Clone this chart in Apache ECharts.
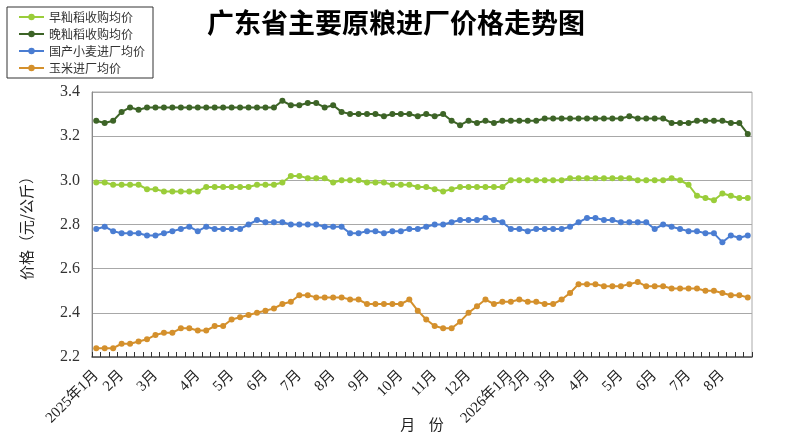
<!DOCTYPE html>
<html>
<head>
<meta charset="utf-8">
<script src="https://cdn.jsdelivr.net/npm/echarts@6/dist/echarts.min.js"></script>
<style>
  html, body { margin: 0; padding: 0; background: #fff; }
  #chart { width: 800px; height: 444px; }
</style>
</head>
<body>
<div id="chart"></div>
<script>
// weekly points, month label only on the first week of each month
const monthLabels = {
  0: '2025年1月', 3: '2月', 7: '3月', 12: '4月', 16: '5月', 20: '6月',
  24: '7月', 28: '8月', 32: '9月', 36: '10月', 40: '11月', 44: '12月',
  49: '2026年1月', 51: '2月', 54: '3月', 58: '4月', 62: '5月', 66: '6月',
  70: '7月', 74: '8月'
};

const earlyRice = [
  2.99, 2.99, 2.98, 2.98, 2.98, 2.98, 2.96, 2.96, 2.95, 2.95,
  2.95, 2.95, 2.95, 2.97, 2.97, 2.97, 2.97, 2.97, 2.97, 2.98,
  2.98, 2.98, 2.99, 3.02, 3.02, 3.01, 3.01, 3.01, 2.99, 3.00,
  3.00, 3.00, 2.99, 2.99, 2.99, 2.98, 2.98, 2.98, 2.97, 2.97,
  2.96, 2.95, 2.96, 2.97, 2.97, 2.97, 2.97, 2.97, 2.97, 3.00,
  3.00, 3.00, 3.00, 3.00, 3.00, 3.00, 3.01, 3.01, 3.01, 3.01,
  3.01, 3.01, 3.01, 3.01, 3.00, 3.00, 3.00, 3.00, 3.01, 3.00,
  2.98, 2.93, 2.92, 2.91, 2.94, 2.93, 2.92, 2.92
];

const lateRice = [
  3.27, 3.26, 3.27, 3.31, 3.33, 3.32, 3.33, 3.33, 3.33, 3.33,
  3.33, 3.33, 3.33, 3.33, 3.33, 3.33, 3.33, 3.33, 3.33, 3.33,
  3.33, 3.33, 3.36, 3.34, 3.34, 3.35, 3.35, 3.33, 3.34, 3.31,
  3.30, 3.30, 3.30, 3.30, 3.29, 3.30, 3.30, 3.30, 3.29, 3.30,
  3.29, 3.30, 3.27, 3.25, 3.27, 3.26, 3.27, 3.26, 3.27, 3.27,
  3.27, 3.27, 3.27, 3.28, 3.28, 3.28, 3.28, 3.28, 3.28, 3.28,
  3.28, 3.28, 3.28, 3.29, 3.28, 3.28, 3.28, 3.28, 3.26, 3.26,
  3.26, 3.27, 3.27, 3.27, 3.27, 3.26, 3.26, 3.21
];

const wheat = [
  2.78, 2.79, 2.77, 2.76, 2.76, 2.76, 2.75, 2.75, 2.76, 2.77,
  2.78, 2.79, 2.77, 2.79, 2.78, 2.78, 2.78, 2.78, 2.80, 2.82,
  2.81, 2.81, 2.81, 2.80, 2.80, 2.80, 2.80, 2.79, 2.79, 2.79,
  2.76, 2.76, 2.77, 2.77, 2.76, 2.77, 2.77, 2.78, 2.78, 2.79,
  2.80, 2.80, 2.81, 2.82, 2.82, 2.82, 2.83, 2.82, 2.81, 2.78,
  2.78, 2.77, 2.78, 2.78, 2.78, 2.78, 2.79, 2.81, 2.83, 2.83,
  2.82, 2.82, 2.81, 2.81, 2.81, 2.81, 2.78, 2.80, 2.79, 2.78,
  2.77, 2.77, 2.76, 2.76, 2.72, 2.75, 2.74, 2.75
];

const corn = [
  2.24, 2.24, 2.24, 2.26, 2.26, 2.27, 2.28, 2.30, 2.31, 2.31,
  2.33, 2.33, 2.32, 2.32, 2.34, 2.34, 2.37, 2.38, 2.39, 2.40,
  2.41, 2.42, 2.44, 2.45, 2.48, 2.48, 2.47, 2.47, 2.47, 2.47,
  2.46, 2.46, 2.44, 2.44, 2.44, 2.44, 2.44, 2.46, 2.41, 2.37,
  2.34, 2.33, 2.33, 2.36, 2.40, 2.43, 2.46, 2.44, 2.45, 2.45,
  2.46, 2.45, 2.45, 2.44, 2.44, 2.46, 2.49, 2.53, 2.53, 2.53,
  2.52, 2.52, 2.52, 2.53, 2.54, 2.52, 2.52, 2.52, 2.51, 2.51,
  2.51, 2.51, 2.50, 2.50, 2.49, 2.48, 2.48, 2.47
];

const seriesNames = ['早籼稻收购均价', '晚籼稻收购均价', '国产小麦进厂均价', '玉米进厂均价'];
const seriesColors = ['#9acd3a', '#3d6427', '#4a7dd2', '#d4902c'];
const seriesData = [earlyRice, lateRice, wheat, corn];

const categories = earlyRice.map((v, i) => monthLabels[i] || '');

const serifFont = '"Liberation Serif", "Noto Sans CJK SC", serif';
const cjkFont = '"Noto Sans CJK SC", sans-serif';

const chart = echarts.init(document.getElementById('chart'));

chart.setOption({
  animation: false,
  backgroundColor: '#fff',
  title: {
    text: '广东省主要原粮进厂价格走势图',
    left: 391,
    textAlign: 'center',
    top: 4,
    textStyle: { fontFamily: cjkFont, fontSize: 27, fontWeight: 'bold', color: '#000' }
  },
  legend: {
    orient: 'vertical',
    left: 7,
    top: 7,
    itemWidth: 25,
    itemHeight: 8,
    itemGap: 5,
    padding: [4, 8, 4, 11],
    borderColor: '#333',
    borderWidth: 1,
    borderRadius: 0,
    data: seriesNames,
    textStyle: { fontFamily: cjkFont, fontSize: 12, color: '#333' }
  },
  grid: {
    left: 92,
    right: 48,
    top: 92,
    bottom: 87,
    outerBoundsMode: 'none',
    show: true,
    borderColor: '#aaa',
    borderWidth: 1
  },
  xAxis: {
    type: 'category',
    data: categories,
    boundaryGap: true,
    name: '月    份',
    nameLocation: 'middle',
    nameGap: 60,
    nameMoveOverlap: false,
    nameTextStyle: { fontFamily: cjkFont, fontSize: 15, color: '#222' },
    axisLine: { lineStyle: { color: '#555', width: 1.5 } },
    axisTick: { show: true, inside: true, interval: 0, length: 5, lineStyle: { color: '#333' } },
    axisLabel: {
      interval: 0,
      rotate: 45,
      margin: 16,
      fontFamily: serifFont,
      fontSize: 15,
      color: '#222'
    },
    splitLine: { show: false }
  },
  yAxis: {
    type: 'value',
    min: 2.2,
    max: 3.4,
    interval: 0.2,
    name: '价格（元/公斤）',
    nameLocation: 'middle',
    nameGap: 58,
    nameRotate: 90,
    nameMoveOverlap: false,
    nameTextStyle: { fontFamily: cjkFont, fontSize: 15, color: '#222' },
    axisLine: { show: true, lineStyle: { color: '#888' } },
    axisTick: { show: false },
    axisLabel: {
      margin: 12,
      fontFamily: serifFont,
      fontSize: 16,
      color: '#333',
      formatter: v => v.toFixed(1)
    },
    splitLine: { lineStyle: { color: '#a8a8a8', width: 1 } }
  },
  series: seriesNames.map((name, k) => ({
    name: name,
    type: 'line',
    data: seriesData[k],
    symbol: 'circle',
    symbolSize: 6,
    color: seriesColors[k],
    lineStyle: { width: 2 },
    z: 3 + k
  }))
});
</script>
</body>
</html>
